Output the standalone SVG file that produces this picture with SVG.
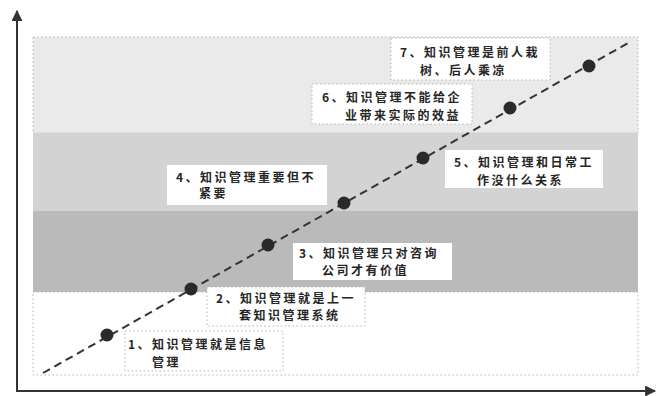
<svg xmlns="http://www.w3.org/2000/svg" width="657" height="396" viewBox="0 0 657 396">
<defs>
<style>
.lbl{font-family:"Noto Sans CJK SC","Noto Sans",sans-serif;font-size:12px;letter-spacing:2.5px;fill:#262626;font-weight:700}
.box{fill:#ffffff}
.dotted{stroke:#b5b5b5;stroke-width:1;stroke-dasharray:1.5 2.5}
.axis{stroke:#333;stroke-width:2;fill:none}
.pt{fill:#2a2a2a}
</style>
<marker id="arr" viewBox="0 0 10 10" refX="9" refY="5" markerWidth="5.5" markerHeight="5.5" orient="auto" markerUnits="strokeWidth">
<path d="M0,0 L10,5 L0,10 z" fill="#333"/>
</marker>
</defs>
<rect width="657" height="396" fill="#ffffff"/>
<g id="bands">
<rect x="33" y="37" width="605" height="96" fill="#eaeaea" class="dotted"/>
<rect x="33" y="133" width="605" height="78" fill="#d3d3d3"/>
<rect x="33" y="211" width="605" height="81" fill="#bababa"/>
<rect x="33" y="292" width="605" height="83" fill="#ffffff" class="dotted"/>
</g>
<g id="axes">
<line class="axis" x1="17" y1="391" x2="17" y2="11" marker-end="url(#arr)"/>
<line class="axis" x1="16" y1="391" x2="655" y2="391" marker-end="url(#arr)"/>
</g>
<g id="connectors">
<line x1="43" y1="373" x2="630" y2="42" stroke="#333" stroke-width="2" stroke-dasharray="8 5"/>
</g>
<g id="node1">
<circle class="pt" cx="107" cy="335" r="6.5"/>
<rect class="box dotted" x="125" y="331" width="158" height="40"/>
<text class="lbl" x="128" y="348.5">1、知识管理就是信息</text>
<text class="lbl" x="152" y="366.5">管理</text>
</g>
<g id="node2">
<circle class="pt" cx="191" cy="289" r="6.5"/>
<rect class="box dotted" x="207" y="287" width="158" height="39"/>
<text class="lbl" x="216" y="302.5">2、知识管理就是上一</text>
<text class="lbl" x="239" y="319.5">套知识管理系统</text>
</g>
<g id="node3">
<circle class="pt" cx="268" cy="245" r="6.5"/>
<rect class="box" x="293" y="243" width="159" height="37"/>
<text class="lbl" x="299" y="257.5">3、知识管理只对咨询</text>
<text class="lbl" x="322" y="274.5">公司才有价值</text>
</g>
<g id="node4">
<circle class="pt" cx="344" cy="203" r="6.5"/>
<rect class="box" x="167" y="165" width="160" height="40"/>
<text class="lbl" x="176" y="181.5">4、知识管理重要但不</text>
<text class="lbl" x="199" y="197.5">紧要</text>
</g>
<g id="node5">
<circle class="pt" cx="423" cy="158" r="6.5"/>
<rect class="box" x="445" y="150" width="158" height="38"/>
<text class="lbl" x="454" y="166.5">5、知识管理和日常工</text>
<text class="lbl" x="477" y="184.5">作没什么关系</text>
</g>
<g id="node6">
<circle class="pt" cx="510" cy="108" r="6.5"/>
<rect class="box dotted" x="312" y="84" width="160" height="40"/>
<text class="lbl" x="322" y="101.5">6、知识管理不能给企</text>
<text class="lbl" x="345" y="119.5">业带来实际的效益</text>
</g>
<g id="node7">
<circle class="pt" cx="589" cy="66" r="6.5"/>
<rect class="box dotted" x="391" y="38" width="159" height="42"/>
<text class="lbl" x="400" y="56.5">7、知识管理是前人栽</text>
<text class="lbl" x="420" y="74.5">树、后人乘凉</text>
</g>
</svg>
